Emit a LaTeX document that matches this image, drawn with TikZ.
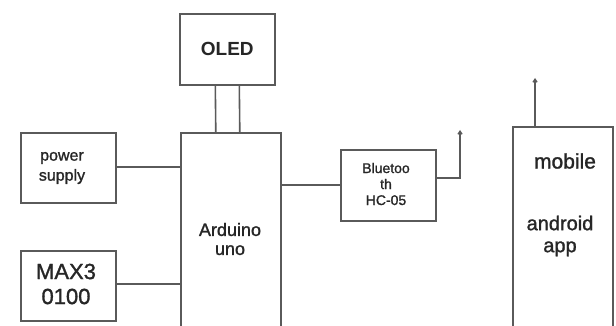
\documentclass[tikz,border=0pt]{standalone}
\usepackage{fontspec}
\setmainfont{Liberation Sans}
\newfontfamily\medfont[FakeBold=1.3]{Liberation Sans}
\usetikzlibrary{arrows.meta}
\definecolor{ln}{HTML}{5A5A5A}
\definecolor{tx}{HTML}{262626}
\tikzset{
  blk/.style={draw=ln, line width=1.6pt, fill=white, inner sep=0pt, text=tx, align=center, anchor=north west},
  lbl/.style={text=tx, align=center, inner sep=0pt},
  wire/.style={draw=ln, line width=1.6pt},
  ant/.style={draw=ln, line width=1.4pt, -{Straight Barb[length=3pt,width=4pt]}}
}
\begin{document}
\begin{tikzpicture}[x=1pt,y=-1pt]
\useasboundingbox (0,0) rectangle (616,326);
\clip (0,0) rectangle (616,326);
\node[blk, minimum width=95pt, minimum height=71pt, font=\fontsize{19}{20}\selectfont\bfseries] (oled) at (179,13) {OLED};
\node[blk, minimum width=100pt, minimum height=205pt] (ard) at (180,132) {};
\node[lbl, font=\fontsize{18}{19}\medfont] (ardt) at (230,239) {Arduino\\uno};
\node[blk, minimum width=95pt, minimum height=70pt] (ps) at (20,132) {};
\node[lbl, font=\fontsize{16}{20}\medfont] (pst) at (62,168) {power\\supply};
\node[blk, minimum width=95pt, minimum height=70pt] (max) at (20,250) {};
\node[lbl, font=\fontsize{22}{25}\medfont] (maxt) at (66,284) {MAX3\\0100};
\node[blk, minimum width=95pt, minimum height=71pt] (bt) at (340,149) {};
\node[lbl, font=\fontsize{14}{16}\medfont] (btt) at (386,184) {Bluetoo\\th\\HC-05};
\node[blk, minimum width=100pt, minimum height=210pt] (mob) at (512,126) {};
\node[lbl, font=\fontsize{21}{22}\medfont] (mobt) at (565,161) {mobile};
\node[lbl, font=\fontsize{20}{22}\medfont] (andt) at (560,236) {android\\app};
\coordinate (bta) at (460,130);
\coordinate (moba) at (535,78);
% connectors
\draw[wire] ([xshift=-12pt]oled.south) -- ([xshift=-15pt]ard.north);
\draw[wire] ([xshift=12pt]oled.south) -- ([xshift=9pt]ard.north);
\draw[wire] (ps.east |- 0,167) -- (ard.west |- 0,167);
\draw[wire] (max.east |- 0,284) -- (ard.west |- 0,284);
\draw[wire] (ard.east |- 0,185) -- (bt.west |- 0,185);
\draw[ant] (bt.east |- 0,178) -| (bta);
\draw[ant] (mob.north west -| moba) -- (moba);
\end{tikzpicture}
\end{document}
